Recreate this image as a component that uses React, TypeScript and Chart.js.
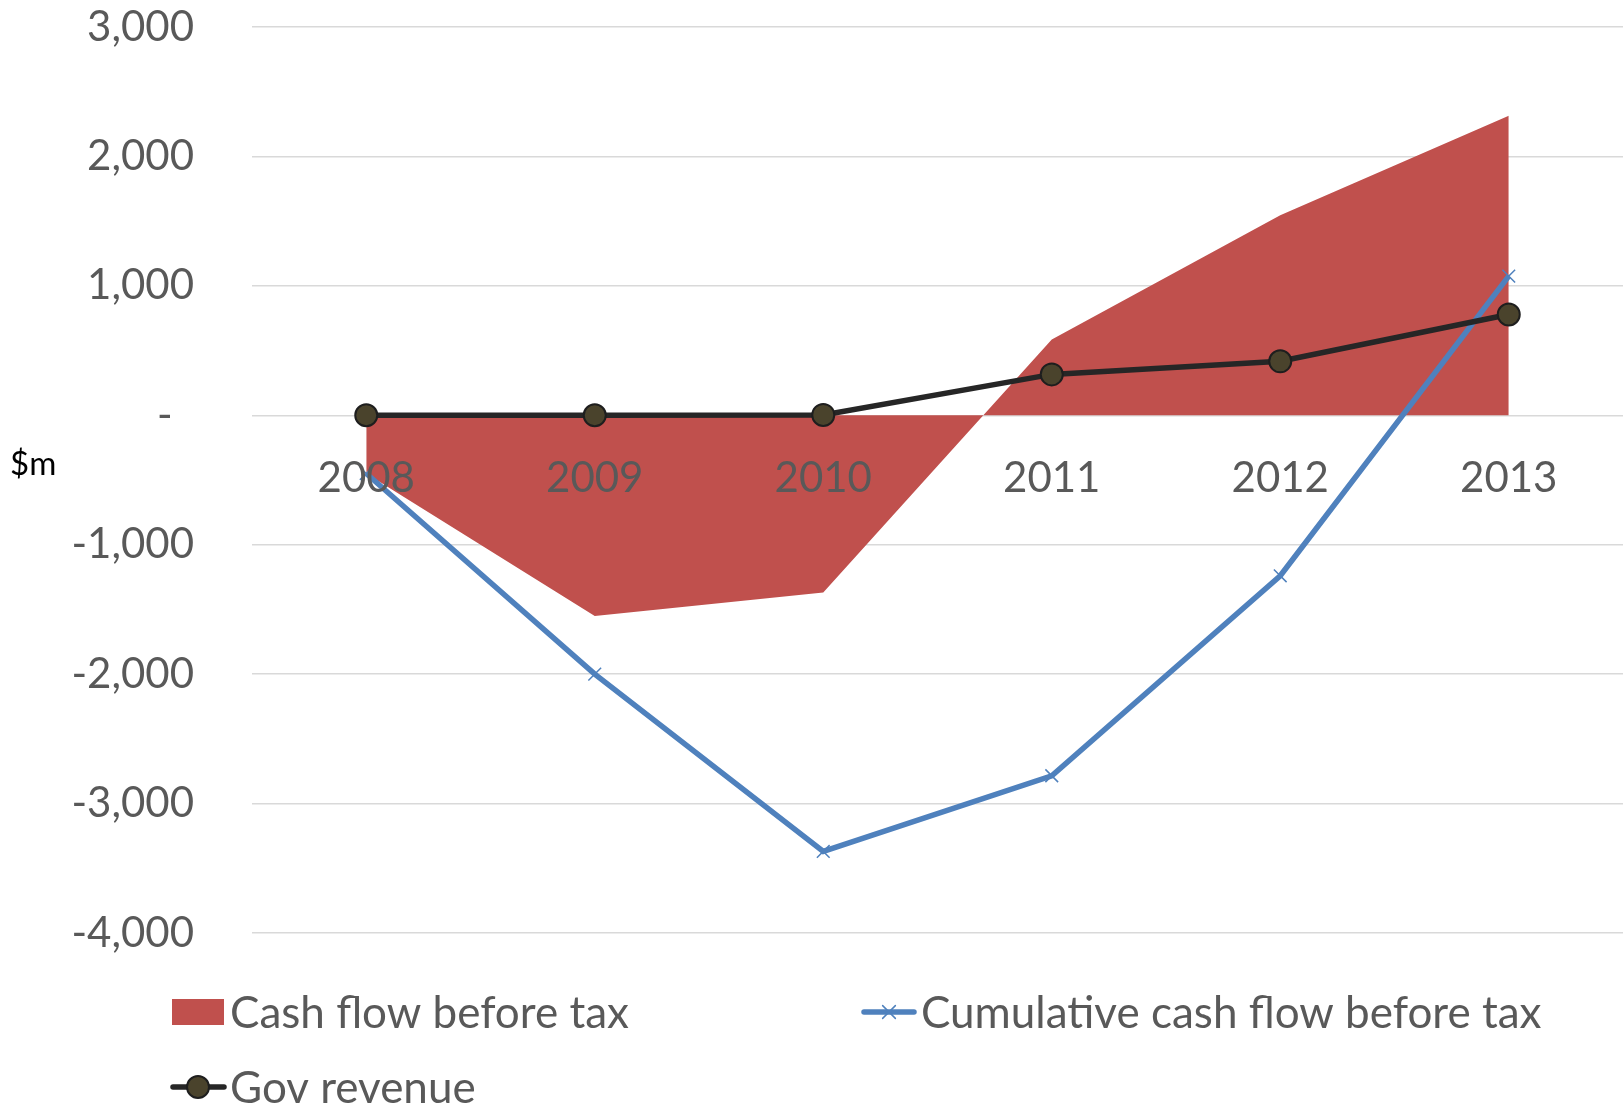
import React, { useEffect, useRef } from 'react';
import { Chart, registerables } from 'chart.js';

Chart.register(...registerables);

// ---- Data ----
const years = ['2008', '2009', '2010', '2011', '2012', '2013'];
const cashFlowBeforeTax = [-450, -1550, -1370, 585, 1545, 2315];
const cumulativeCashFlow = [-450, -2000, -3370, -2785, -1240, 1075];
const govRevenue = [0, 0, 3, 316, 417, 779];
const yMin = -4000;
const yMax = 3000;
const yStep = 1000;
const legendLabels = ['Cash flow before tax', 'Cumulative cash flow before tax', 'Gov revenue'];
const yUnitLabel = '$m';

// ---- Styles ----
const FONT = 'Lato, "Open Sans", sans-serif';
const TICK_SIZE = 42;
const LEGEND_SIZE = 44;
const TEXT_COLOR = '#595959';
const RED = '#C0504D';
const BLUE = '#4F81BD';
const BLACK = '#262626';
const OLIVE = '#4A432C';

function drawCross(ctx: CanvasRenderingContext2D, x: number, y: number, r: number) {
  const d = r * Math.SQRT1_2;
  ctx.beginPath();
  ctx.moveTo(x - d, y - d);
  ctx.lineTo(x + d, y + d);
  ctx.moveTo(x - d, y + d);
  ctx.lineTo(x + d, y - d);
  ctx.stroke();
}

const legendPlugin = {
  id: 'excelLegend',
  afterDraw(chart: any) {
    const ctx: CanvasRenderingContext2D = chart.ctx;
    ctx.save();
    ctx.textBaseline = 'middle';
    ctx.textAlign = 'left';
    ctx.font = `${LEGEND_SIZE}px ${FONT}`;

    // Item 1: area swatch
    const row1 = 1012;
    ctx.fillStyle = RED;
    ctx.fillRect(172, 999, 52, 26);
    ctx.fillStyle = TEXT_COLOR;
    ctx.fillText(legendLabels[0], 230, row1 + 2);

    // Item 2: blue line with cross
    ctx.strokeStyle = BLUE;
    ctx.lineWidth = 5.5;
    ctx.lineCap = 'round';
    ctx.beginPath();
    ctx.moveTo(864, row1);
    ctx.lineTo(914, row1);
    ctx.stroke();
    ctx.lineWidth = 1.5;
    drawCross(ctx, 889, row1, 9);
    ctx.fillStyle = TEXT_COLOR;
    ctx.fillText(legendLabels[1], 921, row1 + 2);

    // Item 3: black line with circle
    const row2 = 1087;
    ctx.strokeStyle = BLACK;
    ctx.lineWidth = 5.5;
    ctx.lineCap = 'round';
    ctx.beginPath();
    ctx.moveTo(173, row2);
    ctx.lineTo(224, row2);
    ctx.stroke();
    ctx.beginPath();
    ctx.arc(198, row2, 11, 0, Math.PI * 2);
    ctx.fillStyle = OLIVE;
    ctx.fill();
    ctx.lineWidth = 2;
    ctx.strokeStyle = '#1e1e1e';
    ctx.stroke();
    ctx.fillStyle = TEXT_COLOR;
    ctx.fillText(legendLabels[2], 230, row2 + 2);

    // Y unit label
    ctx.font = `33px ${FONT}`;
    ctx.fillStyle = '#000000';
    ctx.fillText(yUnitLabel, 10, 464);
    ctx.restore();
  },
};

export default function App() {
  const canvasRef = useRef<HTMLCanvasElement | null>(null);

  useEffect(() => {
    const canvas = canvasRef.current;
    if (!canvas) return;
    const chart = new Chart(canvas, {
      type: 'line',
      data: {
        labels: years,
        datasets: [
          {
            label: legendLabels[2],
            data: govRevenue,
            borderColor: BLACK,
            borderWidth: 5.5,
            pointStyle: 'circle',
            pointRadius: 11,
            pointBackgroundColor: OLIVE,
            pointBorderColor: '#1e1e1e',
            pointBorderWidth: 2,
            fill: false,
            tension: 0,
            clip: false as any,
          },
          {
            label: legendLabels[1],
            data: cumulativeCashFlow,
            borderColor: BLUE,
            borderWidth: 5.5,
            pointStyle: 'crossRot',
            pointRadius: 9,
            pointBorderColor: BLUE,
            pointBorderWidth: 1.5,
            fill: false,
            tension: 0,
            clip: false as any,
          },
          {
            label: legendLabels[0],
            data: cashFlowBeforeTax,
            borderColor: 'rgba(0,0,0,0)',
            borderWidth: 0,
            backgroundColor: RED,
            pointRadius: 0,
            fill: 'origin',
            tension: 0,
          },
        ],
      },
      options: {
        responsive: false,
        animation: false,
        events: [],
        layout: { autoPadding: false, padding: { top: 27, right: 0, bottom: 172, left: 0 } },
        plugins: {
          legend: { display: false },
          tooltip: { enabled: false },
          title: { display: false },
        },
        scales: {
          x: {
            type: 'category',
            position: { y: 0 } as any,
            offset: true,
            afterFit: (scale: any) => {
              scale.paddingLeft = 0;
              scale.paddingRight = 0;
              scale.paddingTop = 0;
              scale.paddingBottom = 0;
            },
            grid: { display: false, drawTicks: false },
            border: { display: false },
            ticks: {
              z: 1,
              color: TEXT_COLOR,
              font: { family: FONT, size: TICK_SIZE },
              padding: 38,
              maxRotation: 0,
              autoSkip: false,
            },
          },
          y: {
            type: 'linear',
            min: yMin,
            max: yMax,
            afterFit: (scale: any) => {
              scale.width = 252;
              scale.paddingTop = 0;
              scale.paddingBottom = 0;
            },
            grid: { color: '#D9D9D9', lineWidth: 1.5, drawTicks: false },
            border: { display: false },
            ticks: {
              stepSize: yStep,
              color: TEXT_COLOR,
              font: { family: FONT, size: TICK_SIZE },
              padding: 58,
              callback: (v: any) => (Number(v) === 0 ? '-  ' : Number(v).toLocaleString('en-US')),
            },
          },
        },
      },
      plugins: [legendPlugin],
    });
    return () => chart.destroy();
  }, []);

  return (
    <div style={{ position: 'absolute', left: 0, top: 0, width: 1623, height: 1105, background: '#fff' }}>
      <canvas ref={canvasRef} width={1623} height={1105} style={{ display: 'block' }} />
    </div>
  );
}
